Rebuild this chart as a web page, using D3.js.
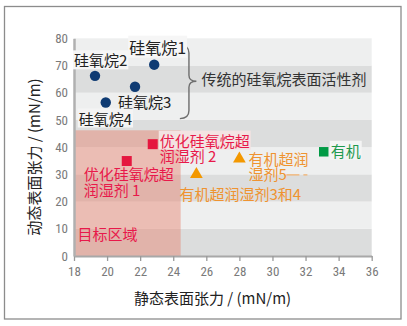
<!DOCTYPE html>
<html><head><meta charset="utf-8">
<script src="https://cdn.jsdelivr.net/npm/d3@7"></script>
<style>
html,body{margin:0;padding:0;background:#fff;}
svg{display:block;}
.cjk{font-family:"Noto Sans CJK SC","Noto Sans",sans-serif;}
.tick text{font-family:"Liberation Sans Narrow","Roboto Condensed","DejaVu Sans Condensed",sans-serif;}
</style>
</head><body>
<svg id="c" width="407" height="326"></svg>
<script>
// ---- data ----
const xTicks = [18,20,22,24,26,28,30,32,34,36];
const yTicks = [0,10,20,30,40,50,60,70,80];
const siloxaneNames = ["硅氧烷1","硅氧烷2","硅氧烷3","硅氧烷4"];
const siloxaneStatic = [22.85,19.27,21.69,19.92];
const siloxaneDynamic = [70.3,66.2,62.2,56.4];
const optimizedNames = [["优化硅氧烷超","润湿剂 1"],["优化硅氧烷超","润湿剂 2"]];
const optimizedStatic = [21.19,22.76];
const optimizedDynamic = [34.9,41.1];
const organicNames = [["有机超润湿剂3和4"],["有机超润","湿剂5"]];
const organicStatic = [25.4,28.0];
const organicDynamic = [30.0,35.7];
const otherNames = ["有机"];
const otherStatic = [33.1];
const otherDynamic = [38.3];
const targetStatic = [18,24.45];
const targetDynamic = [0,46.2];
const braceText = "传统的硅氧烷表面活性剂";
const targetText = "目标区域";
const xTitle = "静态表面张力 / (mN/m)";
const yTitle = "动态表面张力 / (mN/m)";

const svg = d3.select("#c");
const x = d3.scaleLinear().domain([18,36]).range([74,371.7]);
const y = d3.scaleLinear().domain([0,80]).range([256,38.3]);

// frame
svg.append("rect").attr("x",4.5).attr("y",6.5).attr("width",396.5).attr("height",312.5)
  .attr("fill","#fff").attr("stroke","#8c8c8c").attr("stroke-width",1.3);

// bands
const bands = d3.range(0,80,10);
svg.append("g").selectAll("rect").data(bands).join("rect")
  .attr("x",x(18)).attr("width",x(36)-x(18))
  .attr("y",d=>y(d+10)).attr("height",d=>y(d)-y(d+10))
  .attr("fill",d=>(d/10)%2===0?"#dcdddd":"#eeefef");

// target region
svg.append("rect")
  .attr("x",x(targetStatic[0])).attr("width",x(targetStatic[1])-x(targetStatic[0]))
  .attr("y",y(targetDynamic[1])).attr("height",y(targetDynamic[0])-y(targetDynamic[1]))
  .attr("fill","#e7806c").attr("fill-opacity",0.45);

// axes
const xAxis = svg.append("g").attr("transform",`translate(0,${y(0)})`)
  .call(d3.axisBottom(x).tickValues(xTicks).tickSize(5).tickPadding(6).tickSizeOuter(0));
xAxis.select(".domain").attr("stroke","#a8a8a8").attr("stroke-width",2);
xAxis.selectAll(".tick line").attr("stroke","#9a9a9a").attr("stroke-width",1.3);
xAxis.selectAll(".tick text").attr("fill","#7a7a7a").attr("font-size",13);

const yAxis = svg.append("g").attr("transform",`translate(${x(18)},0)`)
  .call(d3.axisLeft(y).tickValues(yTicks).tickSize(0).tickPadding(6).tickSizeOuter(0));
yAxis.select(".domain").attr("stroke","#b0b0b0").attr("stroke-width",2.5);
yAxis.selectAll(".tick text").attr("fill","#7a7a7a").attr("font-size",13);

// helper: text with optional background
function label(lines, px, py, color, size, bg, lh){
  const g = svg.append("g");
  const t = g.append("text").attr("class","cjk").attr("x",px).attr("y",py)
    .attr("fill",color).attr("font-size",size);
  lines.forEach((s,i)=>{
    t.append("tspan").attr("x",px).attr("y",py+i*(lh||15.5)).text(s);
  });
  if(bg){
    const b = t.node().getBBox();
    g.insert("rect","text").attr("x",b.x-1).attr("y",b.y+1).attr("width",b.width+2).attr("height",b.height-2)
      .attr("fill",bg);
  }
  return g;
}

// brace
const bx0 = x(24.4), bx1 = x(24.95), bx2 = x(25.4);
const byT = y(77.5), byM = y(64.2), byB = y(50.5);
svg.append("path")
  .attr("d",`M${bx0},${byT} Q${bx1},${byT} ${bx1},${byT+8} L${bx1},${byM-6} Q${bx1},${byM} ${bx2},${byM} Q${bx1},${byM} ${bx1},${byM+6} L${bx1},${byB-8} Q${bx1},${byB} ${bx0},${byB}`)
  .attr("fill","none").attr("stroke","#6e6e6e").attr("stroke-width",1.4);
label([braceText], bx2+5, y(62.9), "#333", 15, null);

// siloxane circles
const silOff = [[-25,-11],[-21,-9.5],[-17,21],[-27,22]];
const silBg = ["#f6f6f6","#f6f6f6",null,"#f4f4f4"];
siloxaneNames.forEach((n,i)=>{
  const px = x(siloxaneStatic[i]), py = y(siloxaneDynamic[i]);
  label([n], px+silOff[i][0], py+silOff[i][1], "#222", i===0?16:15, silBg[i]);
});
svg.append("g").selectAll("circle").data(siloxaneStatic).join("circle")
  .attr("cx",d=>x(d)).attr("cy",(d,i)=>y(siloxaneDynamic[i])).attr("r",5.2)
  .attr("fill","#0f3b73");

// optimized (red squares)
const optOff = [[-43,19],[7,2.5]];
optimizedNames.forEach((n,i)=>{
  const px = x(optimizedStatic[i]), py = y(optimizedDynamic[i]);
  if(i===1){
    const b = label([n[0]], px+optOff[i][0], py+optOff[i][1], "#e8194a", 15, "#f3e3e2");
    label([n[1]], px+optOff[i][0], py+optOff[i][1]+15, "#e8194a", 15, null);
  } else {
    label(n, px+optOff[i][0], py+optOff[i][1], "#e8194a", 15, null, 15.5);
  }
});
svg.append("g").selectAll("path").data(optimizedStatic).join("path")
  .attr("transform",(d,i)=>`translate(${x(d)},${y(optimizedDynamic[i])})`)
  .attr("d",d3.symbol(d3.symbolSquare,100))
  .attr("fill","#e5173f");

// organic (orange triangles)
const orgOff = [[-17,26],[9,6]];
organicNames.forEach((n,i)=>{
  const px = x(organicStatic[i]), py = y(organicDynamic[i]);
  label(n, px+orgOff[i][0], py+orgOff[i][1], "#ef9330", 15, null, 15);
});
// leader after 湿剂5
{
  const px = x(organicStatic[1]), py = y(organicDynamic[1]);
  svg.append("line").attr("x1",px+47).attr("x2",px+72).attr("y1",py+16).attr("y2",py+16)
    .attr("stroke","#f2b16e").attr("stroke-width",1.1).attr("stroke-dasharray","13,4,4,20");
}
svg.append("g").selectAll("path").data(organicStatic).join("path")
  .attr("transform",(d,i)=>`translate(${x(d)},${y(organicDynamic[i])})`)
  .attr("d",d3.symbol(d3.symbolTriangle,70))
  .attr("fill","#f39800");

// other (green)
otherNames.forEach((n,i)=>{
  const px = x(otherStatic[i]), py = y(otherDynamic[i]);
  label([n], px+7, py+5, "#1f9a4e", 15, "#f4f4f4");
});
svg.append("g").selectAll("path").data(otherStatic).join("path")
  .attr("transform",(d,i)=>`translate(${x(d)},${y(otherDynamic[i])})`)
  .attr("d",d3.symbol(d3.symbolSquare,90))
  .attr("fill","#009944");

// target label
label([targetText], x(18)+3.5, y(0)-16, "#e8194a", 15, null);

// axis titles
svg.append("text").attr("class","cjk").attr("x",212.5).attr("y",304)
  .attr("text-anchor","middle").attr("font-size",15).attr("fill","#222").text(xTitle);
svg.append("text").attr("class","cjk").attr("transform","translate(39.5,157) rotate(-90)")
  .attr("text-anchor","middle").attr("font-size",15).attr("fill","#222").text(yTitle);
</script>
</body></html>
